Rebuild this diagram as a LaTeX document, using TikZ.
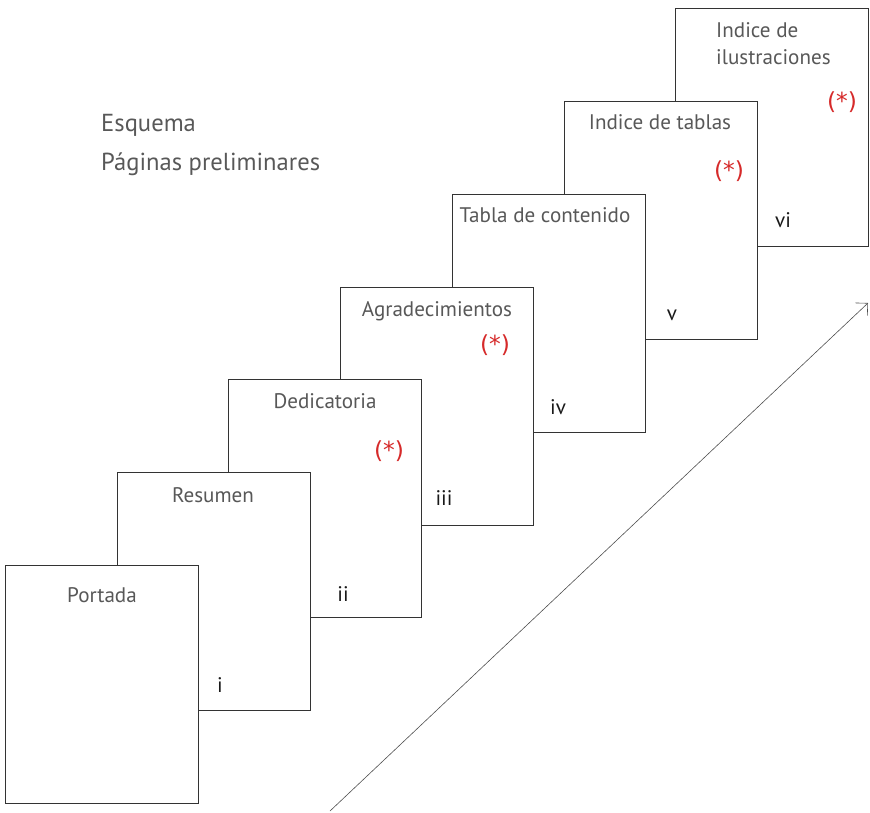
\documentclass[tikz,border=0pt]{standalone}
\usepackage{fontspec}
\setmainfont{PT Sans}
\newfontfamily\notafont{DejaVu Sans}
\usetikzlibrary{arrows.meta}
\definecolor{gristexto}{RGB}{88,88,88}
\definecolor{rojonota}{RGB}{214,42,42}

\begin{document}
\begin{tikzpicture}[x=0.03cm,y=-0.03cm,
	hoja/.style={draw=black!80,fill=white,line width=0.6pt,minimum width=5.79cm,minimum height=7.14cm,inner sep=0pt,anchor=north west},
	titulo/.style={text=gristexto,anchor=base,font=\fontsize{18}{23}\selectfont},
	cabecera/.style={text=gristexto,anchor=base west,inner sep=0pt,font=\fontsize{21}{25}\selectfont},
	numero/.style={text=black!90,anchor=base,font=\fontsize{18}{23}\selectfont},
	nota/.style={text=rojonota,font=\notafont\fontsize{20}{24}\selectfont}]
	\useasboundingbox (0,0) rectangle (870,812);
	\foreach \k in {7,6,...,1} {
		\node[hoja] (p\k) at ({5+111.7*(\k-1)},{565-92.8*(\k-1)}) {};}
	\node[cabecera] (esquema) at (101,131) {Esquema};
	\node[cabecera] (prelim) at (101,170) {Páginas preliminares};
	\node[titulo] (t1) at (102,602) {Portada};
	\node[titulo] (t2) at (213,502) {Resumen};
	\node[titulo] (t3) at (325,408) {Dedicatoria};
	\node[titulo] (t4) at (437,316) {Agradecimientos};
	\node[titulo] (t5) at (545,222) {Tabla de contenido};
	\node[titulo] (t6) at (660,129) {Indice de tablas};
	\node[titulo,anchor=north west,align=left,inner sep=0pt] (t7) at (716,22) {Indice de\\ilustraciones};
	\node[numero] (n1) at (220,692) {i};
	\node[numero] (n2) at (343,601) {ii};
	\node[numero] (n3) at (444,505) {iii};
	\node[numero] (n4) at (558,414) {iv};
	\node[numero] (n5) at (672,320) {v};
	\node[numero] (n6) at (783,227) {vi};
	\node[nota] (a3) at (389,451) {(*)};
	\node[nota] (a4) at (495,345) {(*)};
	\node[nota] (a6) at (729,171) {(*)};
	\node[nota] (a7) at (842,102) {(*)};
	\coordinate (f0) at (330,811);
	\coordinate (f1) at (868,303);
	\draw[-{Straight Barb[length=7.5pt,width=15pt]},black!70,line width=0.5pt] (f0) -- (f1);
\end{tikzpicture}
\end{document}
